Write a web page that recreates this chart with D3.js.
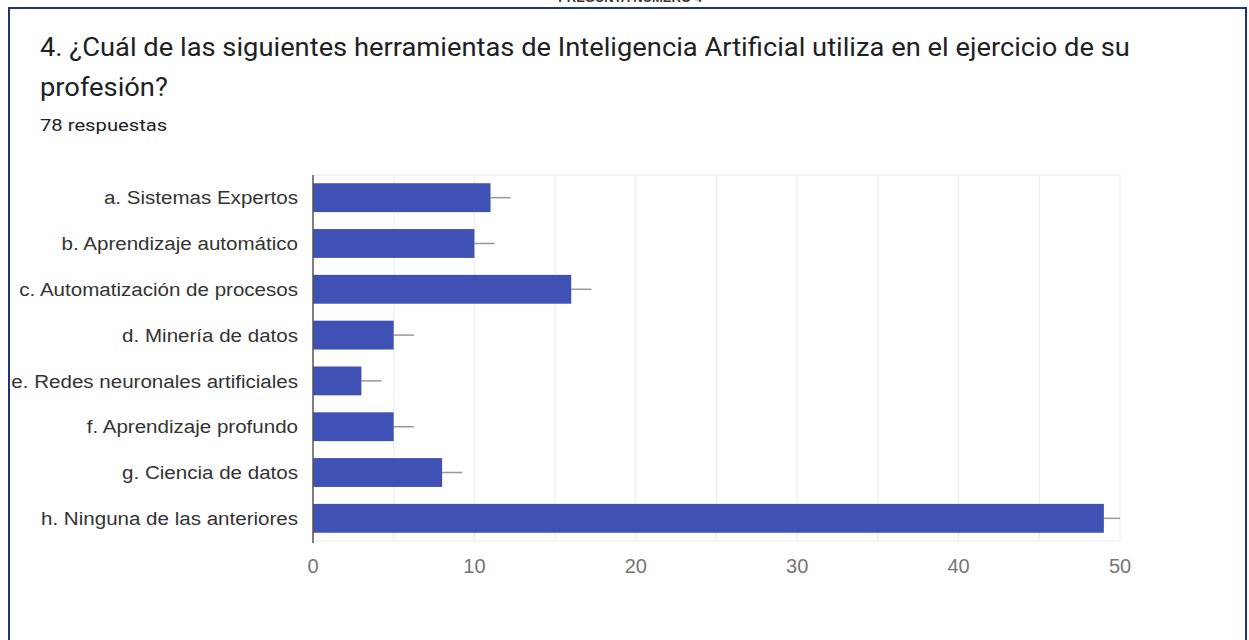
<!DOCTYPE html>
<html>
<head>
<meta charset="utf-8">
<script src="https://cdn.jsdelivr.net/npm/d3@7"></script>
<style>
  body { margin: 0; background: #fff; }
  svg { display: block; }
</style>
</head>
<body>
<svg id="chart" width="1249" height="640"></svg>
<script>
// chart data
const categories = [
    "a. Sistemas Expertos",
    "b. Aprendizaje automático",
    "c. Automatización de procesos",
    "d. Minería de datos",
    "e. Redes neuronales artificiales",
    "f. Aprendizaje profundo",
    "g. Ciencia de datos",
    "h. Ninguna de las anteriores"
];
const counts = [11, 10, 16, 5, 3, 5, 8, 49];
const xTicks = [0, 10, 20, 30, 40, 50];
const gridValues = [5, 10, 15, 20, 25, 30, 35, 40, 45, 50];
const whisker = 1.25;

const svg = d3.select("#chart");

// frame around the card
svg.append("rect")
    .attr("x", 9).attr("y", 8)
    .attr("width", 1237).attr("height", 640)
    .attr("fill", "none")
    .attr("stroke", "#1d3577")
    .attr("stroke-width", 2);

// header of the page, cut by the top edge
svg.append("text")
    .attr("x", 630).attr("y", 2)
    .attr("text-anchor", "middle")
    .attr("font-family", "Liberation Sans, Arial, sans-serif")
    .attr("font-size", 13)
    .attr("font-weight", "bold")
    .attr("fill", "#333")
    .text("PREGUNTA NÚMERO 4");

// title block (stretched a bit horizontally like the screenshot)
const title = svg.append("g")
    .attr("transform", "translate(40,0) scale(1.093,1)")
    .attr("font-family", "Roboto, sans-serif")
    .attr("fill", "#202124");
title.append("text").attr("x", 0).attr("y", 56).attr("font-size", 25)
    .text("4. ¿Cuál de las siguientes herramientas de Inteligencia Artificial utiliza en el ejercicio de su");
title.append("text").attr("x", 0).attr("y", 96).attr("font-size", 25)
    .text("profesión?");
svg.append("text")
    .attr("transform", "translate(40,131) scale(1.19,1)")
    .attr("font-family", "Roboto, sans-serif")
    .attr("font-size", 17)
    .attr("fill", "#202124")
    .text("78 respuestas");

const margin = { left: 313, right: 129, top: 175, bottom: 99 };
const width = 1249 - margin.left - margin.right;
const height = 640 - margin.top - margin.bottom;

const g = svg.append("g").attr("transform", `translate(${margin.left},${margin.top})`);

const x = d3.scaleLinear().domain([0, 50]).range([0, width]);
const y = d3.scaleBand().domain(categories).range([0, height]).paddingInner(0.37).paddingOuter(0.18);

// gridlines
g.append("g")
    .selectAll("line")
    .data(gridValues)
    .join("line")
    .attr("x1", d => x(d)).attr("x2", d => x(d))
    .attr("y1", 0).attr("y2", height)
    .attr("stroke", "#ebebeb")
    .attr("stroke-width", 1);
g.append("line").attr("x1", 0).attr("x2", width).attr("y1", 0).attr("y2", 0).attr("stroke", "#ebebeb");
g.append("line").attr("x1", 0).attr("x2", width).attr("y1", height).attr("y2", height).attr("stroke", "#ebebeb");

// whiskers
g.append("g")
    .selectAll("line")
    .data(counts)
    .join("line")
    .attr("x1", d => x(d))
    .attr("x2", d => x(Math.min(d + whisker, 50)))
    .attr("y1", (d, i) => y(categories[i]) + y.bandwidth() / 2)
    .attr("y2", (d, i) => y(categories[i]) + y.bandwidth() / 2)
    .attr("stroke", "#999")
    .attr("stroke-width", 1.5);

// bars
g.append("g")
    .selectAll("rect")
    .data(counts)
    .join("rect")
    .attr("x", 0)
    .attr("y", (d, i) => y(categories[i]))
    .attr("width", d => x(d))
    .attr("height", y.bandwidth())
    .attr("fill", "#3f51b5");

// baseline
g.append("line")
    .attr("x1", 0).attr("x2", 0)
    .attr("y1", 0).attr("y2", height + 2)
    .attr("stroke", "#555")
    .attr("stroke-width", 1.5);

// x tick labels
g.append("g")
    .selectAll("text")
    .data(xTicks)
    .join("text")
    .attr("x", d => x(d))
    .attr("y", height + 32)
    .attr("text-anchor", "middle")
    .attr("font-family", "Liberation Sans, Arial, sans-serif")
    .attr("font-size", 20)
    .attr("fill", "#757575")
    .text(d => d);

// category labels
g.append("g")
    .attr("transform", "translate(-15,0) scale(1.082,1)")
    .selectAll("text")
    .data(categories)
    .join("text")
    .attr("x", 0)
    .attr("y", d => y(d) + y.bandwidth() / 2)
    .attr("dy", "0.35em")
    .attr("text-anchor", "end")
    .attr("font-family", "Liberation Sans, Arial, sans-serif")
    .attr("font-size", 19)
    .attr("fill", "#333")
    .text(d => d);
</script>
</body>
</html>
